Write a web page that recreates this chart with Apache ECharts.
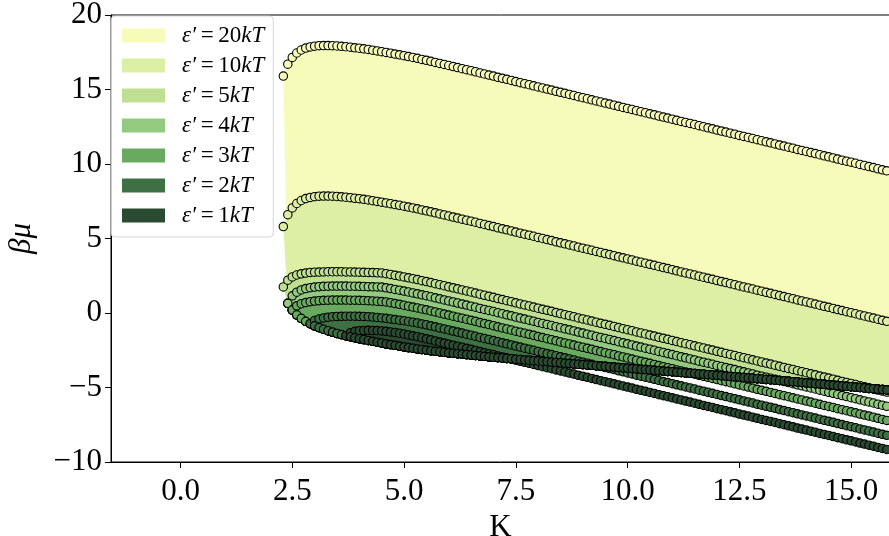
<!DOCTYPE html>
<html>
<head>
<meta charset="utf-8">
<script src="https://cdn.jsdelivr.net/npm/echarts/dist/echarts.min.js"></script>
<style>
  html, body { margin: 0; padding: 0; background: #fff; }
  #chart { width: 889px; height: 536px; }
</style>
</head>
<body>
<div id="chart"></div>
<script>
// Coupling constant K (shared grid of all branches)
const kGrid = [
  2.3, 2.4, 2.5, 2.6, 2.7, 2.8, 2.9,
  3.0, 3.1, 3.2, 3.3, 3.4, 3.5, 3.6, 3.7, 3.8, 3.9,
  4.0, 4.1, 4.2, 4.3, 4.4, 4.5, 4.6, 4.7, 4.8, 4.9,
  5.0, 5.1, 5.2, 5.3, 5.4, 5.5, 5.6, 5.7, 5.8, 5.9,
  6.0, 6.1, 6.2, 6.3, 6.4, 6.5, 6.6, 6.7, 6.8, 6.9,
  7.0, 7.1, 7.2, 7.3, 7.4, 7.5, 7.6, 7.7, 7.8, 7.9,
  8.0, 8.1, 8.2, 8.3, 8.4, 8.5, 8.6, 8.7, 8.8, 8.9,
  9.0, 9.1, 9.2, 9.3, 9.4, 9.5, 9.6, 9.7, 9.8, 9.9,
  10.0, 10.1, 10.2, 10.3, 10.4, 10.5, 10.6, 10.7, 10.8, 10.9,
  11.0, 11.1, 11.2, 11.3, 11.4, 11.5, 11.6, 11.7, 11.8, 11.9,
  12.0, 12.1, 12.2, 12.3, 12.4, 12.5, 12.6, 12.7, 12.8, 12.9,
  13.0, 13.1, 13.2, 13.3, 13.4, 13.5, 13.6, 13.7, 13.8, 13.9,
  14.0, 14.1, 14.2, 14.3, 14.4, 14.5, 14.6, 14.7, 14.8, 14.9,
  15.0, 15.1, 15.2, 15.3, 15.4, 15.5, 15.6, 15.7, 15.8, 15.9
];

// Upper branch of beta*mu for each epsilon' (null where the branch does not exist yet)
const muUpper20 = [
  15.90, 16.70, 17.15, 17.45, 17.65, 17.78, 17.86,
  17.91, 17.94, 17.95, 17.95, 17.94, 17.92, 17.90, 17.87, 17.84, 17.80,
  17.77, 17.73, 17.69, 17.64, 17.59, 17.54, 17.49, 17.44, 17.38, 17.33,
  17.27, 17.21, 17.15, 17.09, 17.02, 16.96, 16.89, 16.82, 16.75, 16.68,
  16.61, 16.54, 16.47, 16.40, 16.33, 16.26, 16.19, 16.11, 16.04, 15.97,
  15.90, 15.82, 15.75, 15.68, 15.61, 15.53, 15.46, 15.39, 15.32, 15.25,
  15.17, 15.10, 15.03, 14.96, 14.88, 14.81, 14.74, 14.67, 14.60, 14.52,
  14.45, 14.38, 14.31, 14.23, 14.16, 14.09, 14.02, 13.95, 13.87, 13.80,
  13.73, 13.66, 13.58, 13.51, 13.44, 13.37, 13.30, 13.22, 13.15, 13.08,
  13.01, 12.93, 12.86, 12.79, 12.72, 12.65, 12.57, 12.50, 12.43, 12.36,
  12.28, 12.21, 12.14, 12.07, 12.00, 11.92, 11.85, 11.78, 11.71, 11.63,
  11.56, 11.49, 11.42, 11.35, 11.27, 11.20, 11.13, 11.06, 10.98, 10.91,
  10.84, 10.77, 10.70, 10.62, 10.55, 10.48, 10.41, 10.33, 10.26, 10.19,
  10.12, 10.05, 9.97, 9.90, 9.83, 9.76, 9.68, 9.61, 9.54, 9.47
];
const muUpper10 = [
  5.80, 6.60, 7.05, 7.35, 7.55, 7.68, 7.76,
  7.81, 7.84, 7.85, 7.85, 7.84, 7.82, 7.80, 7.77, 7.74, 7.70,
  7.67, 7.63, 7.59, 7.54, 7.49, 7.44, 7.39, 7.34, 7.28, 7.23,
  7.17, 7.11, 7.05, 6.99, 6.92, 6.86, 6.79, 6.72, 6.65, 6.58,
  6.51, 6.44, 6.37, 6.30, 6.23, 6.16, 6.09, 6.01, 5.94, 5.87,
  5.80, 5.72, 5.65, 5.58, 5.51, 5.43, 5.36, 5.29, 5.22, 5.15,
  5.07, 5.00, 4.93, 4.86, 4.78, 4.71, 4.64, 4.57, 4.50, 4.42,
  4.35, 4.28, 4.21, 4.13, 4.06, 3.99, 3.92, 3.85, 3.77, 3.70,
  3.63, 3.56, 3.48, 3.41, 3.34, 3.27, 3.20, 3.12, 3.05, 2.98,
  2.91, 2.83, 2.76, 2.69, 2.62, 2.55, 2.47, 2.40, 2.33, 2.26,
  2.18, 2.11, 2.04, 1.97, 1.90, 1.82, 1.75, 1.68, 1.61, 1.53,
  1.46, 1.39, 1.32, 1.25, 1.17, 1.10, 1.03, 0.96, 0.88, 0.81,
  0.74, 0.67, 0.60, 0.52, 0.45, 0.38, 0.31, 0.23, 0.16, 0.09,
  0.02, -0.05, -0.13, -0.20, -0.27, -0.34, -0.42, -0.49, -0.56, -0.63
];
const muUpper5 = [
  1.75, 2.20, 2.42, 2.55, 2.63, 2.68, 2.72,
  2.74, 2.75, 2.76, 2.77, 2.77, 2.77, 2.77, 2.76, 2.76, 2.75,
  2.74, 2.73, 2.72, 2.71, 2.70, 2.69, 2.64, 2.59, 2.53, 2.48,
  2.42, 2.36, 2.30, 2.24, 2.17, 2.11, 2.04, 1.97, 1.90, 1.83,
  1.76, 1.69, 1.62, 1.55, 1.48, 1.41, 1.34, 1.26, 1.19, 1.12,
  1.05, 0.97, 0.90, 0.83, 0.76, 0.68, 0.61, 0.54, 0.47, 0.40,
  0.32, 0.25, 0.18, 0.11, 0.03, -0.04, -0.11, -0.18, -0.25, -0.33,
  -0.40, -0.47, -0.54, -0.62, -0.69, -0.76, -0.83, -0.90, -0.98, -1.05,
  -1.12, -1.19, -1.27, -1.34, -1.41, -1.48, -1.55, -1.63, -1.70, -1.77,
  -1.84, -1.92, -1.99, -2.06, -2.13, -2.20, -2.28, -2.35, -2.42, -2.49,
  -2.57, -2.64, -2.71, -2.78, -2.85, -2.93, -3.00, -3.07, -3.14, -3.22,
  -3.29, -3.36, -3.43, -3.50, -3.58, -3.65, -3.72, -3.79, -3.87, -3.94,
  -4.01, -4.08, -4.15, -4.23, -4.30, -4.37, -4.44, -4.52, -4.59, -4.66,
  -4.73, -4.80, -4.88, -4.95, -5.02, -5.09, -5.17, -5.24, -5.31, -5.38
];
const muUpper4 = [
  null, 0.65, 1.15, 1.40, 1.55, 1.64, 1.70,
  1.74, 1.77, 1.79, 1.80, 1.81, 1.81, 1.81, 1.81, 1.80, 1.80,
  1.79, 1.78, 1.77, 1.76, 1.75, 1.74, 1.69, 1.64, 1.58, 1.53,
  1.47, 1.41, 1.35, 1.29, 1.22, 1.16, 1.09, 1.02, 0.95, 0.88,
  0.81, 0.74, 0.67, 0.60, 0.53, 0.46, 0.39, 0.31, 0.24, 0.17,
  0.10, 0.02, -0.05, -0.12, -0.19, -0.27, -0.34, -0.41, -0.48, -0.55,
  -0.63, -0.70, -0.77, -0.84, -0.92, -0.99, -1.06, -1.13, -1.20, -1.28,
  -1.35, -1.42, -1.49, -1.57, -1.64, -1.71, -1.78, -1.85, -1.93, -2.00,
  -2.07, -2.14, -2.22, -2.29, -2.36, -2.43, -2.50, -2.58, -2.65, -2.72,
  -2.79, -2.87, -2.94, -3.01, -3.08, -3.15, -3.23, -3.30, -3.37, -3.44,
  -3.52, -3.59, -3.66, -3.73, -3.80, -3.88, -3.95, -4.02, -4.09, -4.17,
  -4.24, -4.31, -4.38, -4.45, -4.53, -4.60, -4.67, -4.74, -4.82, -4.89,
  -4.96, -5.03, -5.10, -5.18, -5.25, -5.32, -5.39, -5.47, -5.54, -5.61,
  -5.68, -5.75, -5.83, -5.90, -5.97, -6.04, -6.12, -6.19, -6.26, -6.33
];
const muUpper3 = [
  null, null, 0.20, 0.48, 0.62, 0.70, 0.76,
  0.80, 0.83, 0.85, 0.86, 0.87, 0.87, 0.87, 0.87, 0.86, 0.86,
  0.85, 0.84, 0.83, 0.81, 0.79, 0.77, 0.74, 0.69, 0.63, 0.58,
  0.52, 0.46, 0.40, 0.34, 0.27, 0.21, 0.14, 0.07, 0.00, -0.07,
  -0.14, -0.21, -0.28, -0.35, -0.42, -0.49, -0.56, -0.64, -0.71, -0.78,
  -0.85, -0.93, -1.00, -1.07, -1.14, -1.22, -1.29, -1.36, -1.43, -1.50,
  -1.58, -1.65, -1.72, -1.79, -1.87, -1.94, -2.01, -2.08, -2.15, -2.23,
  -2.30, -2.37, -2.44, -2.52, -2.59, -2.66, -2.73, -2.80, -2.88, -2.95,
  -3.02, -3.09, -3.17, -3.24, -3.31, -3.38, -3.45, -3.53, -3.60, -3.67,
  -3.74, -3.82, -3.89, -3.96, -4.03, -4.10, -4.18, -4.25, -4.32, -4.39,
  -4.47, -4.54, -4.61, -4.68, -4.75, -4.83, -4.90, -4.97, -5.04, -5.12,
  -5.19, -5.26, -5.33, -5.40, -5.48, -5.55, -5.62, -5.69, -5.77, -5.84,
  -5.91, -5.98, -6.05, -6.13, -6.20, -6.27, -6.34, -6.42, -6.49, -6.56,
  -6.63, -6.70, -6.78, -6.85, -6.92, -6.99, -7.07, -7.14, -7.21, -7.28
];
const muUpper2 = [
  null, null, null, null, null, null, -0.72,
  -0.50, -0.40, -0.33, -0.28, -0.25, -0.23, -0.22, -0.21, -0.21, -0.21,
  -0.22, -0.23, -0.25, -0.27, -0.30, -0.33, -0.36, -0.40, -0.44, -0.48,
  -0.52, -0.57, -0.62, -0.67, -0.73, -0.79, -0.86, -0.93, -1.00, -1.07,
  -1.14, -1.21, -1.28, -1.35, -1.42, -1.49, -1.56, -1.64, -1.71, -1.78,
  -1.85, -1.93, -2.00, -2.07, -2.14, -2.22, -2.29, -2.36, -2.43, -2.50,
  -2.58, -2.65, -2.72, -2.79, -2.87, -2.94, -3.01, -3.08, -3.15, -3.23,
  -3.30, -3.37, -3.44, -3.52, -3.59, -3.66, -3.73, -3.80, -3.88, -3.95,
  -4.02, -4.09, -4.17, -4.24, -4.31, -4.38, -4.45, -4.53, -4.60, -4.67,
  -4.74, -4.82, -4.89, -4.96, -5.03, -5.10, -5.18, -5.25, -5.32, -5.39,
  -5.47, -5.54, -5.61, -5.68, -5.75, -5.83, -5.90, -5.97, -6.04, -6.12,
  -6.19, -6.26, -6.33, -6.40, -6.48, -6.55, -6.62, -6.69, -6.77, -6.84,
  -6.91, -6.98, -7.05, -7.13, -7.20, -7.27, -7.34, -7.42, -7.49, -7.56,
  -7.63, -7.70, -7.78, -7.85, -7.92, -7.99, -8.07, -8.14, -8.21, -8.28
];
const muUpper1 = [
  null, null, null, null, null, null, null,
  null, null, null, null, null, null, null, -1.52, -1.32, -1.23,
  -1.19, -1.17, -1.16, -1.17, -1.18, -1.20, -1.23, -1.27, -1.31, -1.36,
  -1.41, -1.47, -1.53, -1.59, -1.66, -1.73, -1.80, -1.88, -1.95, -2.02,
  -2.09, -2.16, -2.23, -2.30, -2.37, -2.44, -2.51, -2.59, -2.66, -2.73,
  -2.80, -2.88, -2.95, -3.02, -3.09, -3.17, -3.24, -3.31, -3.38, -3.45,
  -3.53, -3.60, -3.67, -3.74, -3.82, -3.89, -3.96, -4.03, -4.10, -4.18,
  -4.25, -4.32, -4.39, -4.47, -4.54, -4.61, -4.68, -4.75, -4.83, -4.90,
  -4.97, -5.04, -5.12, -5.19, -5.26, -5.33, -5.40, -5.48, -5.55, -5.62,
  -5.69, -5.77, -5.84, -5.91, -5.98, -6.05, -6.13, -6.20, -6.27, -6.34,
  -6.42, -6.49, -6.56, -6.63, -6.70, -6.78, -6.85, -6.92, -6.99, -7.07,
  -7.14, -7.21, -7.28, -7.35, -7.43, -7.50, -7.57, -7.64, -7.72, -7.79,
  -7.86, -7.93, -8.00, -8.08, -8.15, -8.22, -8.29, -8.37, -8.44, -8.51,
  -8.58, -8.65, -8.73, -8.80, -8.87, -8.94, -9.02, -9.09, -9.16, -9.23
];

// Lower branch (common to all epsilon'; each curve joins it right after its tip)
const muLowerBranch = [
  1.75, 0.65, 0.20, -0.12, -0.36, -0.56, -0.72,
  -0.86, -0.98, -1.09, -1.19, -1.28, -1.37, -1.45, -1.52, -1.59, -1.66,
  -1.72, -1.78, -1.84, -1.90, -1.96, -2.01, -2.07, -2.12, -2.17, -2.22,
  -2.27, -2.32, -2.36, -2.41, -2.45, -2.49, -2.53, -2.57, -2.60, -2.64,
  -2.67, -2.70, -2.73, -2.76, -2.79, -2.82, -2.85, -2.88, -2.91, -2.94,
  -2.97, -2.99, -3.02, -3.05, -3.07, -3.10, -3.12, -3.15, -3.17, -3.20,
  -3.22, -3.25, -3.27, -3.30, -3.32, -3.34, -3.37, -3.39, -3.42, -3.44,
  -3.46, -3.49, -3.51, -3.54, -3.56, -3.58, -3.61, -3.63, -3.66, -3.68,
  -3.70, -3.73, -3.75, -3.78, -3.80, -3.82, -3.85, -3.87, -3.90, -3.92,
  -3.94, -3.97, -3.99, -4.02, -4.04, -4.06, -4.09, -4.11, -4.14, -4.16,
  -4.18, -4.21, -4.23, -4.26, -4.28, -4.31, -4.33, -4.36, -4.38, -4.41,
  -4.43, -4.46, -4.48, -4.51, -4.53, -4.56, -4.58, -4.61, -4.63, -4.66,
  -4.69, -4.71, -4.74, -4.76, -4.79, -4.82, -4.84, -4.87, -4.90, -4.92,
  -4.95, -4.98, -5.00, -5.03, -5.06, -5.08, -5.11, -5.14, -5.16, -5.19
];

const epsValues = ['20', '10', '5', '4', '3', '2', '1'];
const fillColors = ['#f7fbb9', '#dcefa5', '#bfe092', '#94ca80', '#6aaa60', '#3e7044', '#2a4a32'];
const xTickValues = [0, 2.5, 5, 7.5, 10, 12.5, 15];

const upperBranches = [muUpper20, muUpper10, muUpper5, muUpper4, muUpper3, muUpper2, muUpper1];
const seriesNames = epsValues.map(e => 'ε′ = ' + e + 'kT');
const SERIF = 'Liberation Serif';

const series = [];
upperBranches.forEach((upper, j) => {
  const tip = upper.findIndex(v => v !== null);
  const lower = upper.map((v, i) => (i < tip ? null : (i === tip ? v : muLowerBranch[i])));
  const color = fillColors[j];

  // shaded region between the lower and upper branch (only where upper lies above)
  series.push({
    type: 'custom',
    name: seriesNames[j],
    z: 2 + 2 * j,
    silent: true,
    clip: true,
    animation: false,
    itemStyle: { color: color },
    data: [[kGrid[tip], upper[tip]]],
    renderItem: function (params, api) {
      const pts = [];
      for (let i = tip; i < kGrid.length; i++) pts.push(api.coord([kGrid[i], upper[i]]));
      for (let i = kGrid.length - 1; i >= tip; i--) {
        pts.push(api.coord([kGrid[i], Math.min(lower[i], upper[i])]));
      }
      return { type: 'polygon', shape: { points: pts }, style: { fill: color, stroke: null } };
    }
  });

  // markers on both branches
  const pts = [];
  for (let i = tip; i < kGrid.length; i++) pts.push([kGrid[i], upper[i]]);
  for (let i = tip + 1; i < kGrid.length; i++) pts.push([kGrid[i], lower[i]]);
  series.push({
    type: 'scatter',
    name: seriesNames[j] + ' points',
    z: 3 + 2 * j,
    silent: true,
    animation: false,
    symbol: 'circle',
    symbolSize: 8.4,
    itemStyle: { color: color, borderColor: '#000', borderWidth: 1.1, opacity: 1 },
    data: pts
  });
});

const chart = echarts.init(document.getElementById('chart'), null, { renderer: 'canvas' });
chart.setOption({
  animation: false,
  backgroundColor: '#fff',
  grid: {
    left: 111, right: -1, top: 15, bottom: 74,
    containLabel: false, outerBoundsMode: 'none',
    show: true, borderColor: '#000', borderWidth: 1, backgroundColor: 'transparent'
  },
  xAxis: {
    type: 'value', min: -1.555, max: 15.87,
    name: 'K', nameLocation: 'middle', nameGap: 41,
    nameTextStyle: { fontFamily: SERIF, fontSize: 31, color: '#000' },
    axisLine: { show: true, onZero: false, lineStyle: { color: '#000', width: 1 } },
    axisTick: { show: true, length: 6, customValues: xTickValues, lineStyle: { color: '#000' } },
    axisLabel: {
      customValues: xTickValues, margin: 14,
      fontFamily: SERIF, fontSize: 31, color: '#000',
      formatter: v => v.toFixed(1)
    },
    splitLine: { show: false }
  },
  yAxis: {
    type: 'value', min: -10, max: 20, interval: 5,
    name: 'βμ', nameLocation: 'middle', nameGap: 74, nameRotate: 90,
    nameTextStyle: { fontFamily: SERIF, fontStyle: 'italic', fontSize: 31, color: '#000' },
    axisLine: { show: true, onZero: false, lineStyle: { color: '#000', width: 1 } },
    axisTick: { show: true, length: 6, lineStyle: { color: '#000' } },
    axisLabel: {
      margin: 9, fontFamily: SERIF, fontSize: 31, color: '#000',
      formatter: v => (v < 0 ? '−' + Math.abs(v) : String(v))
    },
    splitLine: { show: false }
  },
  legend: {
    orient: 'vertical', left: 111, top: 16, z: 100,
    selectedMode: false,
    data: seriesNames.map((n, j) => ({ name: n, icon: 'rect', itemStyle: { color: fillColors[j] } })),
    itemWidth: 43, itemHeight: 14, itemGap: 7,
    padding: [8, 9, 10, 11],
    backgroundColor: 'rgba(255,255,255,0.8)',
    borderColor: 'rgba(204,204,204,0.8)', borderWidth: 1, borderRadius: 4,
    formatter: name => {
      const e = epsValues[seriesNames.indexOf(name)];
      return '{it|ε′}{rm|\u2009=\u2009' + e + '}{it|kT}';
    },
    textStyle: {
      padding: [0, 0, 0, 12],
      fontSize: 23, lineHeight: 16,
      rich: {
        it: { fontFamily: SERIF, fontStyle: 'italic', fontSize: 23, color: '#000', lineHeight: 16 },
        rm: { fontFamily: SERIF, fontSize: 23, color: '#000', lineHeight: 16 }
      }
    }
  },
  series: series
});
</script>
</body>
</html>
